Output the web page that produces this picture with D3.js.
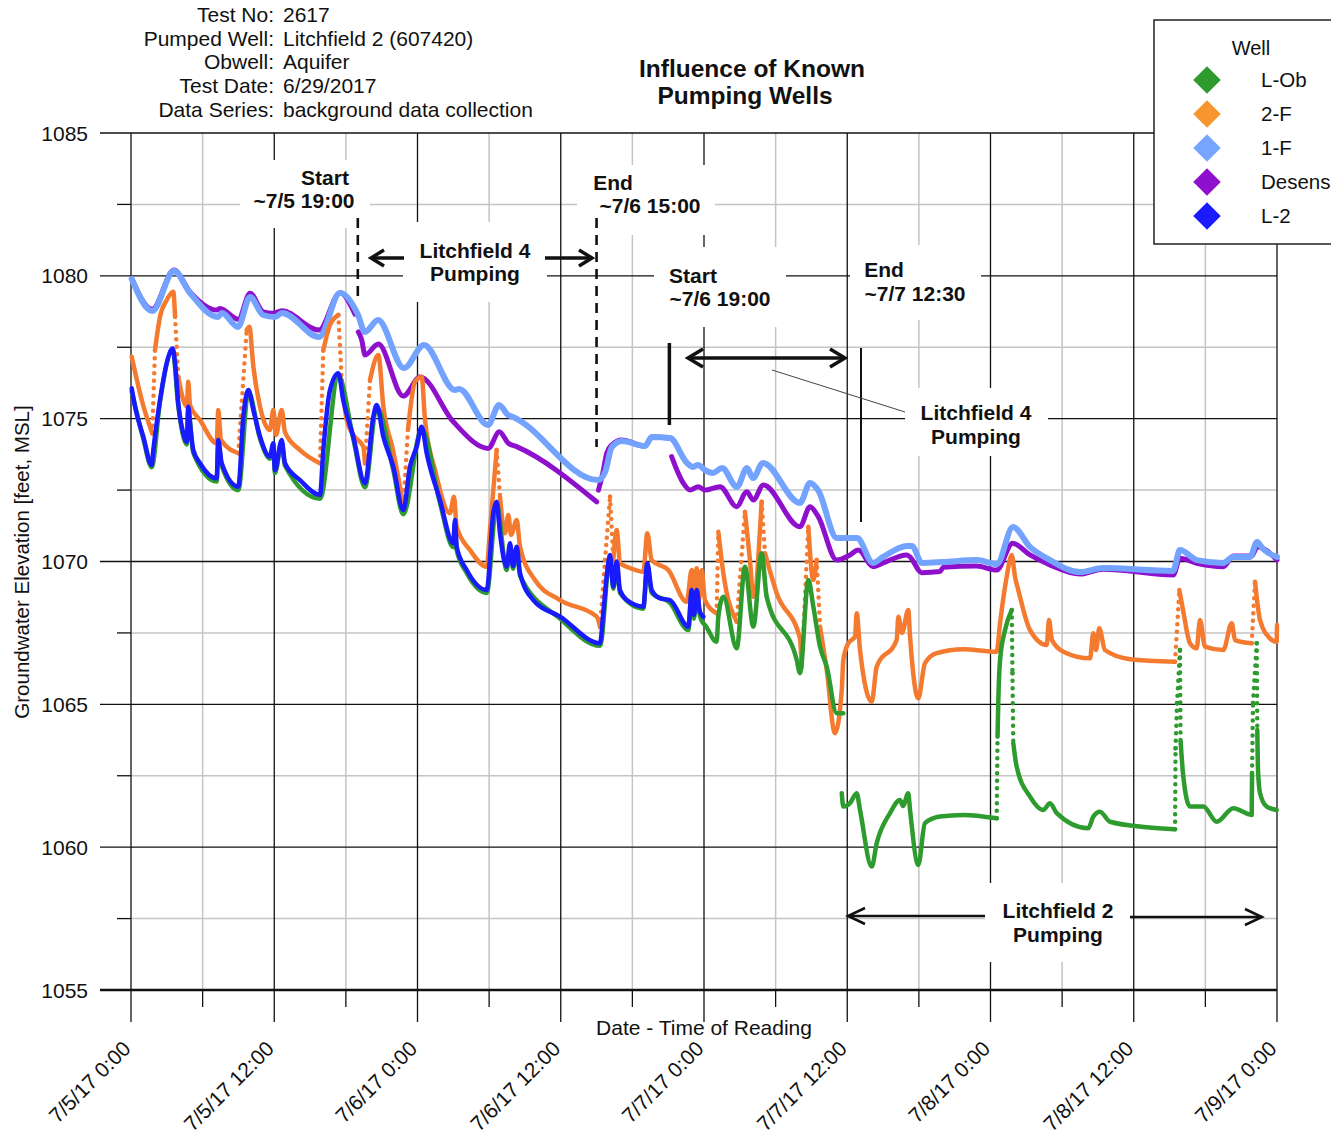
<!DOCTYPE html>
<html><head><meta charset="utf-8">
<script src="https://cdn.jsdelivr.net/npm/d3@7"></script>
<style>
html,body{margin:0;padding:0;background:#fff;}
svg{display:block;font-family:"Liberation Sans",Arial,sans-serif;}
</style></head>
<body><svg id="chart" width="1331" height="1134"></svg>
<script>
// ---------------- DATA ----------------
const wells = ["L-Ob","2-F","1-F","Desens","L-2"];
const wellColors = ["#2E9B2E","#F47A30","#74A3FF","#8E10CC","#1A1AFF"];
const legendColors = ["#2E9B2E","#F7962E","#77A6FF","#8E10CC","#1A1AFF"];

const yMajorTicks = [1055,1060,1065,1070,1075,1080,1085];
const yMinorTicks = [1057.5,1062.5,1067.5,1072.5,1077.5,1082.5];
const xMajorHours = [0,12,24,36,48,60,72,84,96];
const xMinorHours = [6,18,30,42,54,66,78,90];
const xTickLabels = ["7/5/17 0:00","7/5/17 12:00","7/6/17 0:00","7/6/17 12:00","7/7/17 0:00","7/7/17 12:00","7/8/17 0:00","7/8/17 12:00","7/9/17 0:00"];

const headerLabels = ["Test No:","Pumped Well:","Obwell:","Test Date:","Data Series:"];
const headerValues = ["2617","Litchfield 2 (607420)","Aquifer","6/29/2017","background data collection"];

// [hours since 7/5/17 0:00, groundwater elevation ft MSL]; null = gap
const f1Data = [[0.06,1079.89],[1.78,1078.77],[3.60,1080.17],[4.94,1079.40],[7.29,1078.56],[7.62,1078.70],[8.96,1078.21],[9.97,1079.26],[11.06,1078.63],[12.06,1078.56],[12.65,1078.70],[15.75,1077.86],[17.51,1079.40],[19.02,1078.63],[19.60,1078.03],[20.69,1078.45],[22.87,1076.77],[24.54,1077.58],[27.14,1076.0],[27.48,1076.04],[29.91,1074.78],[30.83,1075.48],[31.58,1075.13],[32.0,1075.06],[39.12,1072.85],[39.71,1073.13],[40.29,1074.01],[41.13,1074.22],[43.06,1074.04],[43.64,1074.36],[45.15,1074.32],[46.58,1073.45],[47.08,1073.31],[47.50,1073.38],[48.08,1073.20],[48.75,1073.10],[49.51,1073.27],[50.76,1072.61],[51.60,1073.27],[52.10,1072.92],[52.94,1073.45],[56.04,1072.05],[56.88,1072.75],[57.55,1072.50],[59.14,1070.82],[60.82,1070.82],[62.16,1069.95],[63.0,1070.16],[65.0,1070.54],[65.42,1070.54],[66.26,1069.95],[68.02,1069.98],[70.87,1070.05],[72.54,1069.91],[73.88,1071.21],[75.31,1070.51],[76.98,1070.05],[79.50,1069.63],[81.42,1069.77],[87.29,1069.67],[87.87,1070.40],[89.30,1070.05],[91.48,1069.95],[92.31,1070.16],[93.74,1070.16],[94.33,1070.68],[94.83,1070.44],[96.0,1070.16]];

const desensData = [[0.06,1079.91],[1.78,1078.83],[3.60,1080.20],[4.94,1079.44],[7.18,1078.80],[7.46,1078.86],[8.99,1078.48],[9.97,1079.39],[11.08,1078.74],[11.92,1078.69],[12.62,1078.78],[15.75,1078.10],[17.51,1079.41],[18.76,1078.66],null,[19.04,1078.04],[19.33,1077.75],[19.60,1077.23],[20.72,1077.61],[22.81,1075.79],[24.21,1076.46],[27.0,1074.89],[29.93,1073.96],[30.85,1074.54],[31.61,1074.14],[32.31,1074.02],[39.01,1072.09],null,[39.16,1072.50],[39.54,1073.13],[39.85,1073.79],[40.27,1074.08],[41.11,1074.25],[43.06,1074.04],[43.62,1074.37],[45.29,1074.31],null,[45.29,1073.67],[46.27,1072.74],[46.83,1072.50],[47.52,1072.62],[48.08,1072.50],[49.34,1072.62],[50.74,1071.92],[51.58,1072.44],[52.13,1072.15],[52.97,1072.68],[56.04,1071.22],[56.88,1071.92],[57.57,1071.57],[59.12,1070.05],[60.23,1070.23],[60.93,1070.40],[62.18,1069.82],[63.02,1069.95],[64.98,1070.23],[65.26,1070.16],[66.24,1069.61],[67.77,1069.65],[68.05,1069.80],[70.84,1069.84],[72.52,1069.70],[73.86,1070.64],[75.31,1070.23],[76.98,1069.88],[79.50,1069.56],[81.45,1069.73],[87.31,1069.53],[87.87,1070.11],[89.27,1069.94],[91.50,1069.82],[92.34,1070.19],[93.88,1070.19],[94.35,1070.52],[96.0,1070.05]];

const f2Data = [[0.06,1077.17],[1.01,1075.48],[1.78,1074.49],[2.01,1077.40],[2.43,1078.57],[2.99,1079.15],[3.54,1079.44],[3.69,1078.57],[3.96,1076.47],[4.38,1075.65],[4.67,1075.42],[4.80,1076.29],[4.94,1075.48],[5.78,1074.95],[7.18,1074.14],[7.31,1075.30],[7.54,1074.25],[8.99,1073.79],[9.69,1078.10],[9.91,1078.22],[10.25,1076.82],[10.81,1075.42],[11.64,1074.60],[11.92,1075.30],[12.15,1074.43],[12.62,1075.30],[12.90,1074.53],[14.16,1073.90],[15.83,1073.44],[16.11,1077.40],[16.67,1078.28],[17.37,1078.63],[17.65,1076.35],[18.07,1074.95],[18.62,1074.43],[19.46,1074.02],[19.60,1073.44],[20.02,1076.35],[20.72,1077.23],[21.14,1075.42],[21.95,1073.90],[22.81,1071.98],[23.20,1074.60],[23.79,1076.29],[24.35,1076.47],[24.63,1074.95],[25.47,1073.20],[26.72,1071.69],[27.06,1072.27],[27.28,1071.22],[28.40,1070.40],[29.80,1069.82],[30.07,1071.10],[30.63,1073.90],[30.91,1072.27],[31.33,1070.99],[31.61,1071.63],[31.83,1070.93],[32.31,1071.45],[32.59,1070.52],[33.84,1069.35],[35.94,1068.65],[39.01,1068.07],[39.29,1067.72],[39.71,1070.05],[40.13,1072.27],[40.40,1070.05],[40.69,1071.10],[40.96,1069.94],[41.80,1069.77],[42.92,1069.64],[43.25,1070.99],[43.62,1070.05],[45.01,1069.70],[46.55,1068.59],[46.97,1069.70],[47.16,1068.65],[47.39,1069.76],[47.58,1068.65],[47.81,1069.70],[48.08,1068.65],[49.06,1068.19],[49.20,1071.04],[49.62,1069.59],[50.74,1067.89],[51.43,1071.74],[51.85,1070.05],[52.13,1068.77],[52.83,1072.09],[53.11,1070.29],[54.09,1068.89],[56.04,1067.31],[56.18,1066.32],[56.74,1071.22],[57.16,1069.35],[57.44,1070.05],[57.72,1067.72],[58.28,1066.20],[58.97,1063.99],[59.54,1065.50],[59.67,1066.55],[60.09,1067.14],[60.65,1067.37],[60.79,1068.19],[61.07,1066.90],[62.05,1065.09],[62.47,1066.32],[64.14,1067.25],[64.28,1068.07],[64.59,1067.50],[65.11,1068.30],[65.26,1067.37],[65.95,1065.21],[66.51,1066.44],[67.49,1066.79],[69.72,1066.93],[72.52,1066.84],[72.80,1067.84],[73.36,1069.47],[73.78,1070.23],[74.05,1069.47],[74.33,1069.0],[75.31,1067.60],[76.71,1067.08],[76.90,1067.95],[77.15,1067.25],[78.10,1066.84],[80.34,1066.61],[80.61,1067.49],[80.84,1066.90],[81.11,1067.66],[81.59,1066.90],[83.69,1066.58],[87.46,1066.49],[87.82,1069.0],[88.13,1068.30],[88.71,1067.14],[89.27,1066.96],[89.55,1067.95],[89.97,1067.02],[91.50,1066.90],[92.21,1067.84],[92.48,1067.25],[93.88,1067.14],[94.16,1069.29],[94.58,1067.95],[95.41,1067.31],[95.97,1067.19],[96.0,1067.78]];

const l2Data = [[0.06,1076.06],[0.34,1075.42],[1.03,1074.37],[1.73,1073.38],[1.87,1073.90],[2.43,1075.65],[2.99,1076.94],[3.49,1077.46],[3.69,1076.94],[3.96,1075.54],[4.38,1074.49],[4.67,1074.19],[4.80,1075.42],[4.94,1074.84],[5.22,1073.90],[5.78,1073.44],[7.18,1072.91],[7.31,1074.25],[7.60,1073.44],[8.99,1072.62],[9.41,1075.07],[9.83,1076.0],[10.25,1075.30],[10.81,1074.37],[11.64,1073.67],[11.92,1074.14],[12.06,1073.20],[12.62,1074.25],[12.90,1073.44],[14.16,1072.85],[15.83,1072.33],[16.11,1073.90],[16.67,1076.0],[17.37,1076.59],[17.78,1075.65],[18.62,1074.37],[19.60,1072.74],[20.30,1075.07],[20.58,1075.48],[21.14,1074.37],[21.97,1073.32],[22.81,1071.80],[23.37,1073.32],[23.93,1074.02],[24.35,1074.72],[24.77,1073.79],[25.88,1072.15],[27.0,1070.64],[27.14,1071.45],[27.28,1070.52],[28.12,1069.70],[29.80,1069.0],[30.35,1071.69],[30.63,1072.09],[30.91,1070.99],[31.47,1069.82],[31.75,1070.64],[32.0,1069.84],[32.31,1070.52],[32.59,1069.59],[33.70,1068.65],[35.94,1068.07],[39.29,1067.14],[39.56,1068.19],[39.98,1069.94],[40.13,1070.23],[40.40,1069.12],[40.69,1070.0],[40.96,1069.0],[41.53,1068.65],[42.92,1068.42],[43.25,1069.94],[43.62,1069.0],[44.31,1068.71],[45.15,1068.65],[46.69,1067.72],[46.97,1069.0],[47.16,1068.13],[47.39,1069.0],[47.66,1068.23],[47.94,1068.07]];

const lobData = [[0.06,1075.95],[1.03,1074.30],[1.73,1073.30],[2.43,1075.60],[3.49,1077.40],[3.96,1075.45],[4.67,1074.10],[4.80,1075.30],[5.22,1073.80],[7.18,1072.80],[7.31,1074.10],[7.60,1073.35],[8.99,1072.50],[9.83,1075.95],[10.81,1074.30],[11.64,1073.60],[11.92,1074.05],[12.06,1073.10],[12.62,1074.15],[12.90,1073.35],[15.83,1072.20],[17.37,1076.50],[18.62,1074.30],[19.60,1072.60],[20.58,1075.40],[21.97,1073.20],[22.81,1071.65],[24.35,1074.65],[25.88,1072.05],[27.0,1070.50],[27.14,1071.35],[27.28,1070.40],[28.12,1069.60],[29.80,1068.90],[30.63,1072.0],[31.47,1069.70],[31.75,1070.50],[32.0,1069.75],[32.31,1070.40],[32.59,1069.50],[35.94,1068.0],[39.29,1067.05],[40.13,1070.15],[40.40,1069.05],[40.69,1069.90],[40.96,1068.90],[42.92,1068.35],[43.25,1069.85],[43.62,1068.90],[45.15,1068.55],[46.69,1067.60],[46.97,1068.90],[47.16,1068.0],[47.39,1068.90],[47.66,1068.10],[47.94,1067.84],[48.08,1067.78],[49.06,1067.19],[49.20,1068.07],[49.62,1068.77],[50.74,1066.96],[51.43,1069.82],[52.13,1067.72],[52.83,1070.29],[53.25,1068.77],[55.77,1066.55],[56.04,1066.09],[56.74,1069.35],[57.16,1068.42],[57.72,1067.02],[58.28,1066.32],[59.12,1064.69],[59.67,1064.69],null,[59.54,1061.89],[59.67,1061.42],[60.23,1061.54],[60.79,1061.89],[61.07,1061.30],[62.05,1059.32],[62.47,1060.14],[63.58,1061.19],[64.42,1061.65],[64.67,1061.44],[65.11,1061.89],[65.26,1061.30],[65.95,1059.38],[66.51,1060.84],[67.77,1061.07],[69.72,1061.13],[72.52,1061.01],[72.59,1063.87],[72.65,1065.04],[72.80,1066.55],[73.22,1067.60],[73.78,1068.30],[73.84,1066.09],[73.91,1063.64],[74.19,1062.82],[75.31,1061.77],[76.42,1061.30],[76.98,1061.54],[77.55,1061.19],[80.19,1060.66],[80.61,1061.07],[81.17,1061.24],[82.01,1060.89],[85.09,1060.70],[87.46,1060.63],[87.50,1063.46],[87.63,1065.04],[87.87,1066.90],[87.92,1063.75],[88.15,1062.47],[88.71,1061.42],[89.83,1061.42],[90.95,1060.89],[92.34,1061.36],[93.88,1061.13],[93.91,1062.60],[93.99,1065.05],[94.30,1067.14],[94.35,1064.10],[94.41,1062.70],[94.58,1061.89],[95.14,1061.42],[95.97,1061.30]];

// ---------------- CHART ----------------
const svg = d3.select("#chart");
const base = new Date(2017,6,5,0,0,0);
const t = h => new Date(base.getTime() + h*3600000);
const x = d3.scaleTime().domain([t(0), t(96)]).range([131, 1277]);
const y = d3.scaleLinear().domain([1055,1085]).range([990,133]);

const grid = svg.append("g");
xMinorHours.forEach(h => {
  grid.append("line").attr("x1",x(t(h))).attr("x2",x(t(h))).attr("y1",y(1085)).attr("y2",y(1055))
    .attr("stroke","#c4c4c4").attr("stroke-width",1.5);
  grid.append("line").attr("x1",x(t(h))).attr("x2",x(t(h))).attr("y1",y(1055)).attr("y2",y(1055)+17)
    .attr("stroke","#111").attr("stroke-width",1.3);
});
yMinorTicks.forEach(v => {
  grid.append("line").attr("x1",x(t(0))).attr("x2",x(t(96))).attr("y1",y(v)).attr("y2",y(v))
    .attr("stroke","#c4c4c4").attr("stroke-width",1.5);
  grid.append("line").attr("x1",x(t(0))-14).attr("x2",x(t(0))).attr("y1",y(v)).attr("y2",y(v))
    .attr("stroke","#111").attr("stroke-width",1.3);
});
xMajorHours.forEach(h => {
  grid.append("line").attr("x1",x(t(h))).attr("x2",x(t(h))).attr("y1",y(1085)).attr("y2",y(1055)+32)
    .attr("stroke","#111").attr("stroke-width",1.3);
});
yMajorTicks.forEach(v => {
  grid.append("line").attr("x1",x(t(0))-31).attr("x2",x(t(96))).attr("y1",y(v)).attr("y2",y(v))
    .attr("stroke","#111").attr("stroke-width", v===1055 ? 2.6 : 1.3);
});

// white label boxes that mask the grid
const annoBoxes = [[240,160,130,68],[403,222,144,80],[577,165,138,70],[654,247,132,80],[850,245,131,75],[905,388,143,68],[985,883,145,79]];
svg.append("g").selectAll("rect").data(annoBoxes).join("rect")
  .attr("x",d=>d[0]).attr("y",d=>d[1]).attr("width",d=>d[2]).attr("height",d=>d[3]).attr("fill","#fff");

// y tick labels
svg.append("g").selectAll("text").data(yMajorTicks).join("text")
  .attr("x", 88).attr("y", d=>y(d)).attr("dy","0.36em").attr("text-anchor","end")
  .attr("font-size",21).attr("fill","#111").text(d3.format("d"));
// x tick labels
svg.append("g").selectAll("text").data(xMajorHours).join("text")
  .attr("transform",(d)=>`translate(${x(t(d))+1},1050) rotate(-45)`)
  .attr("text-anchor","end").attr("font-size",21).attr("fill","#111")
  .text((d,i)=>xTickLabels[i]);
// axis titles
svg.append("text").attr("x",704).attr("y",1035).attr("text-anchor","middle").attr("font-size",21)
  .attr("fill","#111").text("Date - Time of Reading");
svg.append("text").attr("transform","translate(29,562) rotate(-90)").attr("text-anchor","middle")
  .attr("font-size",20.5).attr("fill","#111").text("Groundwater Elevation [feet, MSL]");

// data lines: gentle parts solid, very steep jumps drawn as sparse logger dots
const line = d3.line().defined(d=>d!==null).x(d=>x(t(d[0]))).y(d=>y(d[1])).curve(d3.curveMonotoneX);
function isSteep(a,b){
  const dx = Math.abs(x(t(b[0]))-x(t(a[0]))), dy = Math.abs(y(b[1])-y(a[1]));
  return dy > 45 && dy > 12*dx;
}
function splitSeries(data, dotted){
  const solid = [], steep = [];
  data.forEach((p,i)=>{
    solid.push(p);
    const q = data[i+1];
    if (dotted && p && q && isSteep(p,q)) { solid.push(null); steep.push([p,q]); }
  });
  return {solid, steep};
}
const series = [
  {data: desensData, color: wellColors[3], w: 5, dotted:false},
  {data: f1Data, color: wellColors[2], w: 6, dotted:false},
  {data: f2Data, color: wellColors[1], w: 4.5, dotted:true},
  {data: lobData, color: wellColors[0], w: 4.5, dotted:true},
  {data: l2Data, color: wellColors[4], w: 4.5, dotted:false}
];
const gData = svg.append("g");
series.forEach(s=>{
  const parts = splitSeries(s.data, s.dotted);
  gData.append("path").attr("d", line(parts.solid)).attr("fill","none").attr("stroke",s.color)
    .attr("stroke-width",s.w).attr("stroke-linejoin","round").attr("stroke-linecap","round");
  gData.append("g").selectAll("line").data(parts.steep).join("line")
    .attr("x1",d=>x(t(d[0][0]))).attr("y1",d=>y(d[0][1]))
    .attr("x2",d=>x(t(d[1][0]))).attr("y2",d=>y(d[1][1]))
    .attr("stroke",s.color).attr("stroke-width",s.w).attr("stroke-linecap","round")
    .attr("stroke-dasharray","0,7.5");
});

// annotations
const ann = svg.append("g").attr("fill","#111").attr("font-weight","bold").attr("font-size",21);
function txt(s, cx, by){ ann.append("text").attr("x",cx).attr("y",by).attr("text-anchor","middle").text(s); }
txt("Start",325,185); txt("~7/5 19:00",304,208);
txt("End",613,190); txt("~7/6 15:00",650,213);
txt("Litchfield 4",475,258); txt("Pumping",475,281);
txt("Start",693,283); txt("~7/6 19:00",720,306);
txt("End",884,277); txt("~7/7 12:30",915,301);
txt("Litchfield 4",976,420); txt("Pumping",976,444);
txt("Litchfield 2",1058,918); txt("Pumping",1058,942);

const lg = svg.append("g").attr("stroke","#111").attr("fill","none");
lg.append("line").attr("x1",x(t(19))).attr("x2",x(t(19))).attr("y1",218).attr("y2",297).attr("stroke-width",2.6).attr("stroke-dasharray","10,7");
lg.append("line").attr("x1",x(t(39))).attr("x2",x(t(39))).attr("y1",218).attr("y2",447).attr("stroke-width",2.6).attr("stroke-dasharray","10,7");
lg.append("line").attr("x1",x(t(45.1))).attr("x2",x(t(45.1))).attr("y1",343).attr("y2",425).attr("stroke-width",3.5);
lg.append("line").attr("x1",x(t(61.15))).attr("x2",x(t(61.15))).attr("y1",348).attr("y2",522).attr("stroke-width",2);
function arrowHead(px, py, dir, len, half, sw){
  lg.append("path").attr("d",`M${px-dir*len},${py-half} L${px},${py} L${px-dir*len},${py+half}`).attr("stroke-width",sw);
}
function hline(x1,x2,py,sw){ lg.append("line").attr("x1",x1).attr("x2",x2).attr("y1",py).attr("y2",py).attr("stroke-width",sw); }
hline(371,404,258,3.5); arrowHead(371,258,-1,13,8,3.5);
hline(545,592,258,3.5); arrowHead(592,258,1,13,8,3.5);
hline(688,845,358,3.5); arrowHead(688,358,-1,15,9,3.5); arrowHead(845,358,1,15,9,3.5);
hline(848,985,916,2.5); arrowHead(848,916,-1,17,8,2.5);
hline(1130,1262,917,2.5); arrowHead(1262,917,1,17,8,2.5);
lg.append("line").attr("x1",772).attr("y1",370).attr("x2",905).attr("y2",412).attr("stroke","#444").attr("stroke-width",1);

// header
const hd = svg.append("g").attr("font-size",21).attr("fill","#111");
headerLabels.forEach((s,i)=>{
  hd.append("text").attr("x",274).attr("y",22+i*23.7).attr("text-anchor","end").text(s);
  hd.append("text").attr("x",283).attr("y",22+i*23.7).text(headerValues[i]);
});
// title
const tt = svg.append("g").attr("font-size",24.5).attr("font-weight","bold").attr("fill","#111").attr("text-anchor","middle");
tt.append("text").attr("x",752).attr("y",77).text("Influence of Known");
tt.append("text").attr("x",745).attr("y",104).text("Pumping Wells");

// legend
const leg = svg.append("g");
leg.append("rect").attr("x",1154).attr("y",20).attr("width",200).attr("height",224)
  .attr("fill","#fff").attr("stroke","#222").attr("stroke-width",1.5);
leg.append("text").attr("x",1251).attr("y",55).attr("text-anchor","middle").attr("font-size",20).attr("fill","#111").text("Well");
const legY = d3.scalePoint().domain(wells).range([80,216]);
wells.forEach((w,i)=>{
  leg.append("path").attr("d", d3.symbol(d3.symbolSquare, 380)())
    .attr("transform",`translate(1207,${legY(w)}) rotate(45)`).attr("fill",legendColors[i]);
  leg.append("text").attr("x",1261).attr("y",legY(w)).attr("dy","0.36em").attr("font-size",20.5).attr("fill","#111").text(w);
});
</script>
</body></html>
